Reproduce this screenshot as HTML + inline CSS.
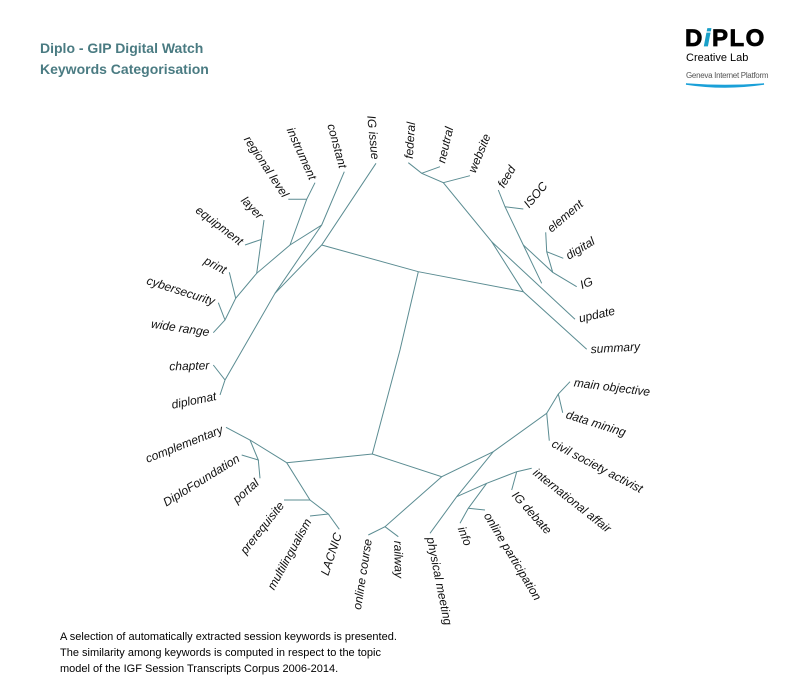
<!DOCTYPE html>
<html><head><meta charset="utf-8"><style>
html,body{margin:0;padding:0;background:#fff;}
body{width:800px;height:700px;position:relative;overflow:hidden;font-family:"Liberation Sans",sans-serif;}
</style></head><body>
<svg width="800" height="700" xmlns="http://www.w3.org/2000/svg" style="position:absolute;left:0;top:0">
<g font-family="Liberation Sans, sans-serif" font-weight="bold" font-size="14" fill="#4a7b82">
<text x="40" y="53">Diplo - GIP Digital Watch</text>
<text x="40" y="74">Keywords Categorisation</text>
</g>
<g font-family="Liberation Sans, sans-serif">
<text x="685" y="46" font-size="24" font-weight="bold" fill="#000" letter-spacing="1.5" stroke="#000" stroke-width="0.8">D<tspan fill="#1aa0c8" stroke="#1aa0c8" font-style="italic">i</tspan>PLO</text>
<text x="686" y="61" font-size="11" fill="#000">Creative Lab</text>
<text x="686" y="78" font-size="8" fill="#555" letter-spacing="-0.3">Geneva Internet Platform</text>
</g>
<path d="M686,84 Q725,90 764,84 Q725,87 686,84 Z" fill="#1aa0d8" stroke="#1aa0d8" stroke-width="1.5"/>
<g fill="none" stroke="#5b8c92" stroke-width="1">
<path d="M213.3,332.7L225,320L235.7,298.3L256.7,273.3L290,245L321.7,225L344.3,171.7"/>
<path d="M218.3,302.7L225,320"/>
<path d="M229.3,272.3L235.7,298.3"/>
<path d="M264,220L256.7,273.3"/>
<path d="M245,245L261.7,239.3"/>
<path d="M315,182.7L306.7,199.3L290,245"/>
<path d="M288.3,199.3L306.7,199.3"/>
<path d="M321.7,225L275,293.3"/>
<path d="M376,163.3L321.7,245L275,293.3L225,380"/>
<path d="M213.3,365L225,380L220,395"/>
<path d="M321.7,245L418.3,271.7L523.3,291.7L586.7,349.3"/>
<path d="M418.3,271.7L400,350L372.3,454"/>
<path d="M523.3,291.7L491.7,241.7L443.3,182.7L421.7,173.3L408.3,162.7"/>
<path d="M421.7,173.3L440,166.7"/>
<path d="M443.3,182.7L470,175.7"/>
<path d="M491.7,241.7L575,319.3"/>
<path d="M541.7,283.3L523.3,245L505,206.7L498.3,190"/>
<path d="M505,206.7L523.3,209"/>
<path d="M523.3,245L552.7,272.3L576.7,286.7"/>
<path d="M552.7,272.3L546.7,251.7L545.7,232.3"/>
<path d="M546.7,251.7L563.3,258.3"/>
<path d="M286.7,462.7L372.3,454L441.7,476.7L493.3,451.7L546.7,413.3L558.3,394L570,381.7"/>
<path d="M558.3,394L562.7,412.7"/>
<path d="M546.7,413.3L549.3,440.7"/>
<path d="M441.7,476.7L385,526.7L368.3,535"/>
<path d="M385,526.7L398.3,536.7"/>
<path d="M493.3,451.7L456.7,496.7L430,533.3"/>
<path d="M456.7,496.7L486.7,483.3L516.7,471.7L531.7,468.3"/>
<path d="M516.7,471.7L511.7,490"/>
<path d="M486.7,483.3L468.3,508.3L460,523.3"/>
<path d="M468.3,508.3L485,510"/>
<path d="M286.7,462.7L250,440L226,427.3"/>
<path d="M250,440L258.3,460L241.7,455"/>
<path d="M258.3,460L260,478.3"/>
<path d="M286.7,462.7L310,500L284,500"/>
<path d="M310,500L328.3,514L310,516"/>
<path d="M328.3,514L339.3,529.3"/>
</g>
<g font-family="Liberation Sans, sans-serif" font-style="italic" font-size="12" fill="#111">
<text transform="translate(213.3,332.7) rotate(8.5)" x="-4" dy=".35em" text-anchor="end">wide range</text>
<text transform="translate(218.3,302.7) rotate(17.8)" x="-4" dy=".35em" text-anchor="end">cybersecurity</text>
<text transform="translate(229.3,272.3) rotate(27.9)" x="-4" dy=".35em" text-anchor="end">print</text>
<text transform="translate(245,245) rotate(37.5)" x="-4" dy=".35em" text-anchor="end">equipment</text>
<text transform="translate(264,220) rotate(46.9)" x="-4" dy=".35em" text-anchor="end">layer</text>
<text transform="translate(288.3,199.3) rotate(56.4)" x="-4" dy=".35em" text-anchor="end">regional level</text>
<text transform="translate(315,182.7) rotate(65.7)" x="-4" dy=".35em" text-anchor="end">instrument</text>
<text transform="translate(344.3,171.7) rotate(74.8)" x="-4" dy=".35em" text-anchor="end">constant</text>
<text transform="translate(376,163.3) rotate(84.5)" x="-4" dy=".35em" text-anchor="end">IG issue</text>
<text transform="translate(408.3,162.7) rotate(-86.2)" x="4" dy=".35em">federal</text>
<text transform="translate(440,166.7) rotate(-76.9)" x="4" dy=".35em">neutral</text>
<text transform="translate(470,175.7) rotate(-67.8)" x="4" dy=".35em">website</text>
<text transform="translate(498.3,190) rotate(-58.8)" x="4" dy=".35em">feed</text>
<text transform="translate(523.3,209) rotate(-49.7)" x="4" dy=".35em">ISOC</text>
<text transform="translate(545.7,232.3) rotate(-40.3)" x="4" dy=".35em">element</text>
<text transform="translate(563.3,258.3) rotate(-31.3)" x="4" dy=".35em">digital</text>
<text transform="translate(576.7,286.7) rotate(-21.9)" x="4" dy=".35em">IG</text>
<text transform="translate(575,319.3) rotate(-12.8)" x="4" dy=".35em">update</text>
<text transform="translate(586.7,349.3) rotate(-3.3)" x="4" dy=".35em">summary</text>
<text transform="translate(570,381.7) rotate(7.2)" x="4" dy=".35em">main objective</text>
<text transform="translate(562.7,412.7) rotate(17.5)" x="4" dy=".35em">data mining</text>
<text transform="translate(549.3,440.7) rotate(27.7)" x="4" dy=".35em">civil society activist</text>
<text transform="translate(531.7,468.3) rotate(38.3)" x="4" dy=".35em">international affair</text>
<text transform="translate(511.7,490) rotate(48)" x="4" dy=".35em">IG debate</text>
<text transform="translate(485,510) rotate(59)" x="4" dy=".35em">online participation</text>
<text transform="translate(460,523.3) rotate(68.3)" x="4" dy=".35em">info</text>
<text transform="translate(430,533.3) rotate(78.6)" x="4" dy=".35em">physical meeting</text>
<text transform="translate(398.3,536.7) rotate(89)" x="4" dy=".35em">railway</text>
<text transform="translate(368.3,535) rotate(-81.2)" x="-4" dy=".35em" text-anchor="end">online course</text>
<text transform="translate(339.3,529.3) rotate(-71.7)" x="-4" dy=".35em" text-anchor="end">LACNIC</text>
<text transform="translate(310,516) rotate(-61.4)" x="-4" dy=".35em" text-anchor="end">multilingualism</text>
<text transform="translate(284,500) rotate(-51.6)" x="-4" dy=".35em" text-anchor="end">prerequisite</text>
<text transform="translate(260,478.3) rotate(-41.2)" x="-4" dy=".35em" text-anchor="end">portal</text>
<text transform="translate(241.7,455) rotate(-31.8)" x="-4" dy=".35em" text-anchor="end">DiploFoundation</text>
<text transform="translate(226,427.3) rotate(-21.6)" x="-4" dy=".35em" text-anchor="end">complementary</text>
<text transform="translate(220,395) rotate(-11.3)" x="-4" dy=".35em" text-anchor="end">diplomat</text>
<text transform="translate(213.3,365) rotate(-1.6)" x="-4" dy=".35em" text-anchor="end">chapter</text>
</g>
<g font-family="Liberation Sans, sans-serif" font-size="11" fill="#000">
<text x="60" y="640">A selection of automatically extracted session keywords is presented.</text>
<text x="60" y="656">The similarity among keywords is computed in respect to the topic</text>
<text x="60" y="672">model of the IGF Session Transcripts Corpus 2006-2014.</text>
</g>
</svg>
</body></html>
